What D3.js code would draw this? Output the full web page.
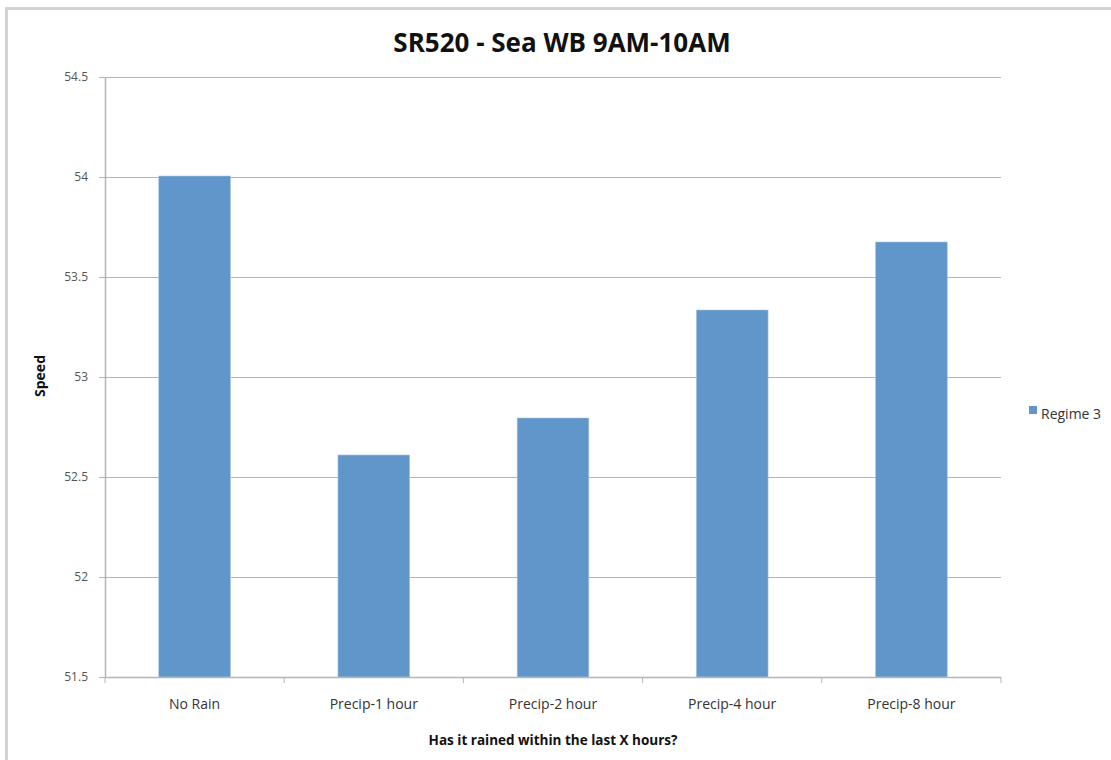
<!DOCTYPE html>
<html><head><meta charset="utf-8">
<script src="https://cdn.jsdelivr.net/npm/d3@7"></script>
<style>body{margin:0;background:#fff}svg{display:block}text{font-family:"Open Sans","Liberation Sans Narrow",sans-serif}</style>
</head><body>
<svg id="c" width="1111" height="760"></svg>
<script>
const categories = ["No Rain","Precip-1 hour","Precip-2 hour","Precip-4 hour","Precip-8 hour"];
const values = [54.005, 52.61, 52.795, 53.335, 53.675];
const yTicks = [51.5, 52, 52.5, 53, 53.5, 54, 54.5];
const yTickLabels = ["51.5","52","52.5","53","53.5","54","54.5"];
const seriesName = "Regime 3";
const title = "SR520 - Sea WB 9AM-10AM";
const xTitle = "Has it rained within the last X hours?";
const yTitle = "Speed";

const svg = d3.select("#c");
const m = {left:105, right:1001, top:77, bottom:677};
const x = d3.scaleBand().domain(categories).range([m.left, m.right]).paddingInner(0.6).paddingOuter(0.3);
const y = d3.scaleLinear().domain([51.5, 54.5]).range([m.bottom, m.top]);

// outer frame
svg.append("path").attr("d","M6.5,760 L6.5,8.5 L1111,8.5").attr("fill","none").attr("stroke","#d3d3d3").attr("stroke-width",3);

// gridlines
svg.append("g").selectAll("line").data(yTicks.slice(1)).join("line")
  .attr("x1", m.left).attr("x2", m.right).attr("y1", d=>y(d)+0.5).attr("y2", d=>y(d)+0.5)
  .attr("stroke","#b5b5b5").attr("stroke-width",1.2);

// bars
svg.append("g").selectAll("rect").data(values).join("rect")
  .attr("x",(d,i)=>x(categories[i])).attr("width",x.bandwidth())
  .attr("y",d=>y(d)).attr("height",d=>y(51.5)-y(d))
  .attr("fill","#6096c9").attr("stroke","#a9c6e4").attr("stroke-width",0.6);

// y axis
const ya = svg.append("g").attr("transform",`translate(${m.left},0)`)
  .call(d3.axisLeft(y).tickValues(yTicks).tickFormat((d,i)=>yTickLabels[i]).tickSize(6).tickPadding(11));
ya.select(".domain").attr("stroke","#b5b5b5").attr("stroke-width",1.5).attr("d",`M0.5,${m.top}V${m.bottom}`);
ya.selectAll(".tick line").attr("stroke","#b5b5b5");
ya.selectAll("text").attr("font-size",12).attr("fill","#555").attr("font-family","'Open Sans',sans-serif");

// x axis
const bounds = d3.range(categories.length+1).map(i=>m.left + i*(m.right-m.left)/categories.length);
const xa = svg.append("g");
xa.append("line").attr("x1",m.left).attr("x2",m.right).attr("y1",m.bottom+0.5).attr("y2",m.bottom+0.5).attr("stroke","#b5b5b5").attr("stroke-width",1.5);
xa.selectAll(".tk").data(bounds).join("line").attr("class","tk")
  .attr("x1",d=>d).attr("x2",d=>d).attr("y1",m.bottom).attr("y2",m.bottom+6).attr("stroke","#b5b5b5");
xa.selectAll("text").data(categories).join("text")
  .attr("x",d=>x(d)+x.bandwidth()/2).attr("y",709).attr("text-anchor","middle")
  .attr("font-size",14).attr("fill","#333").text(d=>d);

// titles
svg.append("text").attr("x",562).attr("y",52).attr("text-anchor","middle")
  .attr("font-size",26).attr("font-weight","bold").attr("fill","#111").text(title);
svg.append("text").attr("x",553).attr("y",745).attr("text-anchor","middle")
  .attr("font-size",13.5).attr("font-weight","bold").attr("fill","#111").text(xTitle);
svg.append("text").attr("transform","translate(45,376) rotate(-90)").attr("text-anchor","middle")
  .attr("font-size",14).attr("font-weight","bold").attr("fill","#111").text(yTitle);

// legend
svg.append("rect").attr("x",1029).attr("y",406).attr("width",8).attr("height",8).attr("fill","#6096c9");
svg.append("text").attr("x",1041).attr("y",419).attr("font-size",14).attr("fill","#333").text(seriesName);
</script>
</body></html>
